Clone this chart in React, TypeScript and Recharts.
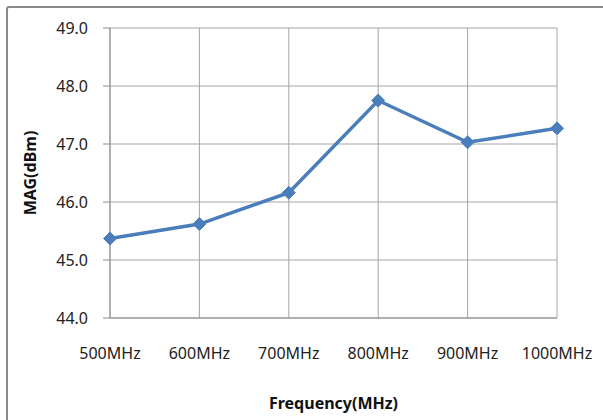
import React from 'react';
import { LineChart, CartesianGrid, XAxis, YAxis, Line, Label } from 'recharts';

// values
const frequencies = ['500MHz', '600MHz', '700MHz', '800MHz', '900MHz', '1000MHz'];
const magValues = [45.37, 45.62, 46.16, 47.75, 47.03, 47.27];
const yTicks = [44, 45, 46, 47, 48, 49];

const data = frequencies.map((f, i) => ({ freq: f, mag: magValues[i] }));

const FONT = '"Noto Sans", sans-serif';
const BLUE = '#4a7ebb';

function Diamond(props: any) {
  const { cx, cy } = props;
  if (cx == null || cy == null) return null;
  const r = 6.5;
  return (
    <polygon
      points={`${cx},${cy - r} ${cx + r},${cy} ${cx},${cy + r} ${cx - r},${cy}`}
      fill={BLUE}
      stroke={BLUE}
    />
  );
}

export default function App() {
  return (
    <div style={{ position: 'absolute', left: 0, top: 0, width: 603, height: 420, overflow: 'hidden', background: '#fff' }}>
      <div
        style={{
          position: 'absolute',
          left: 6,
          top: 6,
          width: 640,
          height: 460,
          border: '2px solid #8a8a8a',
          borderRadius: 3,
        }}
      />
      <div style={{ position: 'absolute', left: 0, top: 0 }}>
        <LineChart width={603} height={420} data={data} margin={{ top: 28, right: 46, bottom: 0, left: 0 }}>
          <CartesianGrid stroke="#a6a6a6" strokeWidth={1} />
          <XAxis
            dataKey="freq"
            height={102}
            tickLine={false}
            axisLine={{ stroke: '#8c8c8c' }}
            tickSize={0}
            tickMargin={30}
            tick={{ fill: '#222', fontSize: 16, fontFamily: FONT }}
            interval={0}
          >
            <Label
              value="Frequency(MHz)"
              position="insideBottom"
              offset={11}
              style={{ fontWeight: 'bold', fontSize: 16, fill: '#111', fontFamily: FONT }}
            />
          </XAxis>
          <YAxis
            width={110}
            domain={[44, 49]}
            ticks={yTicks}
            tickFormatter={(v: number) => v.toFixed(1)}
            tickSize={7}
            tickMargin={15}
            tickLine={{ stroke: '#8c8c8c' }}
            axisLine={{ stroke: '#8c8c8c' }}
            tick={{ fill: '#222', fontSize: 16, fontFamily: FONT }}
            interval={0}
          >
            <Label
              value="MAG(dBm)"
              angle={-90}
              position="insideLeft"
              offset={30}
              style={{ textAnchor: 'middle', fontWeight: 'bold', fontSize: 16, fill: '#111', fontFamily: FONT }}
            />
          </YAxis>
          <Line
            type="linear"
            dataKey="mag"
            stroke={BLUE}
            strokeWidth={3.5}
            dot={<Diamond />}
            activeDot={false}
            isAnimationActive={false}
          />
        </LineChart>
      </div>
    </div>
  );
}
